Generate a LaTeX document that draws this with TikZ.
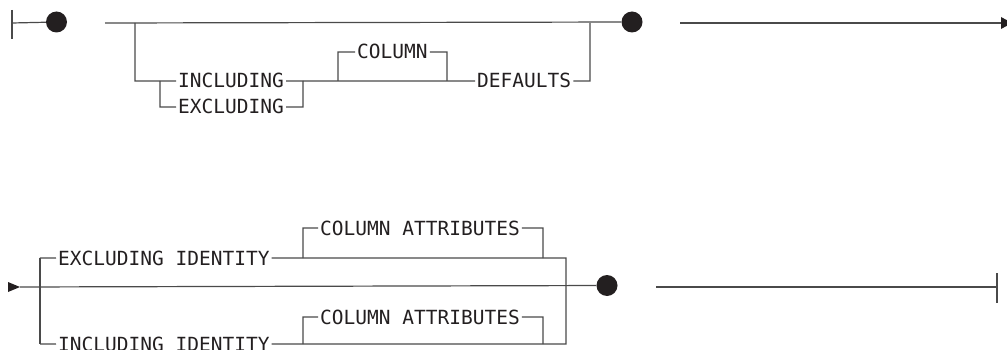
\documentclass[tikz,border=0pt]{standalone}
\usepackage{fontspec}
\newfontfamily\rrfont{DejaVu Sans Mono}
\definecolor{ink}{HTML}{231F20}
\definecolor{rail}{HTML}{4A4A4A}
\begin{document}
\begin{tikzpicture}[x=1pt,y=-1pt,
  line/.style={draw=rail,line width=1.2pt},
  kw/.style={anchor=base west,inner xsep=2pt,inner ysep=0pt,text=ink,font=\rrfont\fontsize{19.5}{20}\selectfont},
  dot/.style={circle,fill=ink,minimum size=21pt,inner sep=0pt},
  tip/.style={fill=ink}]
\useasboundingbox (0,0) rectangle (1007,350);
\clip (0,0) rectangle (1007,350);
% ---------- top row ----------
\coordinate (s0) at (12,23);
\coordinate (s0t) at (12,10);
\coordinate (s0b) at (12,39);
\node[dot] (d1) at (56.5,22) {};
\node[dot] (d2) at (632,22) {};
\coordinate (r1) at (105,23);
\coordinate (b1) at (135,23);
\coordinate (b1d) at (135,81);
\coordinate (e1) at (590,23);
\coordinate (e1d) at (590,81);
\node[kw] (inc) at (176,88) {INCLUDING};
\node[kw] (exc) at (176,114) {EXCLUDING};
\coordinate (c1) at (160,81);
\coordinate (c1d) at (160,107);
\coordinate (c2) at (303,81);
\coordinate (c2d) at (303,107);
\node[kw] (col) at (355,59) {COLUMN};
\coordinate (k1) at (338,81);
\coordinate (k1u) at (338,52);
\coordinate (k2) at (447,81);
\coordinate (k2u) at (447,52);
\node[kw] (def) at (475,88) {DEFAULTS};
\coordinate (a1) at (680,23);
\coordinate (a2) at (1001,23);

\draw[line] (s0t) -- (s0b);
\draw[line] (s0) -- (d1);
\draw[line] (r1) -- (d2);
\draw[line] (b1) -- (b1d) -- (inc.west);
\draw[line] (c1) -- (c1d) -- (exc.west);
\draw[line] (inc.east) -- (c2);
\draw[line] (exc.east) -- (c2d) -- (c2);
\draw[line] (c2) -- (def.west);
\draw[line] (k1) -- (k1u) -- (col.west);
\draw[line] (col.east) -- (k2u) -- (k2);
\draw[line] (def.east) -- (e1d) -- (e1);
\draw[line] (a1) -- (a2);
\fill[tip] (1001,17) -- (1012,23) -- (1001,29) -- cycle;

% ---------- bottom row ----------
\coordinate (m0) at (20,287);
\fill[tip] (8,282) -- (20,287) -- (8,292) -- cycle;
\node[dot] (d3) at (607,285.5) {};
\coordinate (bb) at (40,258);
\coordinate (bbd) at (40,344);
\node[kw] (exi) at (56,265) {EXCLUDING IDENTITY};
\node[kw] (ini) at (56,351) {INCLUDING IDENTITY};
\node[kw] (ca1) at (318,235) {COLUMN ATTRIBUTES};
\node[kw] (ca2) at (318,324) {COLUMN ATTRIBUTES};
\coordinate (p1) at (303,258);
\coordinate (p1u) at (303,228);
\coordinate (q1) at (543,258);
\coordinate (q1u) at (543,228);
\coordinate (p2) at (303,344);
\coordinate (p2u) at (303,317);
\coordinate (q2) at (543,344);
\coordinate (q2u) at (543,317);
\coordinate (ee) at (566,258);
\coordinate (eed) at (566,344);
\coordinate (f0) at (656,287);
\coordinate (f1) at (997,287);

\draw[line] (m0) -- (d3);
\draw[line] (bb) -- (bbd);
\draw[line] (bb) -- (exi.west);
\draw[line] (bbd) -- (ini.west);
\draw[line] (exi.east) -- (ee) -- (eed) -- (ini.east);
\draw[line] (p1) -- (p1u) -- (ca1.west);
\draw[line] (ca1.east) -- (q1u) -- (q1);
\draw[line] (p2) -- (p2u) -- (ca2.west);
\draw[line] (ca2.east) -- (q2u) -- (q2);
\draw[line] (f0) -- (f1);
\draw[line] (997,273) -- (997,303);
\end{tikzpicture}
\end{document}
